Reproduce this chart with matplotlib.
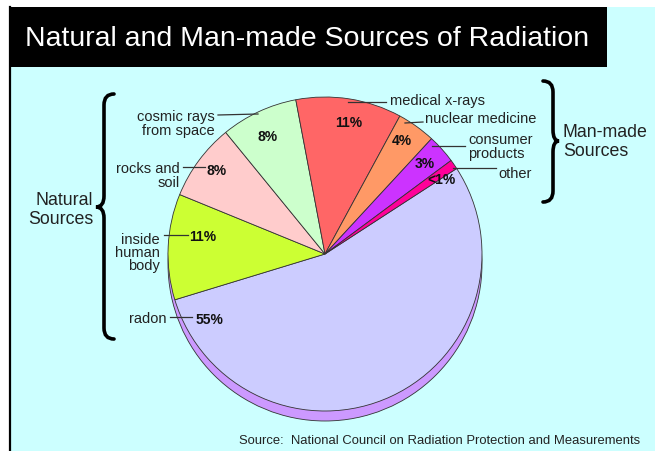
import matplotlib.pyplot as plt
from matplotlib.patches import Rectangle, Circle, PathPatch
from matplotlib.path import Path

plt.rcParams['font.family'] = ['Liberation Sans', 'DejaVu Sans']

# data, clockwise from the radon slice
sources = ['radon', 'inside\nhuman\nbody', 'rocks and\nsoil', 'cosmic rays\nfrom space',
           'medical x-rays', 'nuclear medicine', 'consumer\nproducts', 'other']
shares = [55, 11, 8, 8, 11, 4, 3, 1]
pct_labels = ['55%', '11%', '8%', '8%', '11%', '4%', '3%', '<1%']
colors = ['#CCCCFF', '#CCFF33', '#FFCCCC', '#CCFFCC',
          '#FF6666', '#FF9966', '#CC33FF', '#FF0099']

title = 'Natural and Man-made Sources of Radiation'
source_note = 'Source:  National Council on Radiation Protection and Measurements'

W, H = 655, 452
fig = plt.figure(figsize=(W / 100, H / 100), dpi=100)
fig.patch.set_facecolor('white')
ax = fig.add_axes([0, 0, 1, 1])

# background panel and title bar (image pixel coords, y down)
ax.add_patch(Rectangle((9, 8), W - 9, H - 8, fc='#CCFFFF', ec='none', zorder=0))
ax.plot([9.5, 9.5], [8, H], color='black', lw=1.6, zorder=0.5)
ax.add_patch(Rectangle((9, 8), 598, 60, fc='black', ec='none', zorder=0.5))
ax.text(25, 39, title, color='white', fontsize=20.5, va='center', ha='left')

# pie with a dropped shadow
cx, cy, r = 325, 255, 157
ax.add_patch(Circle((cx, cy + 10), r, fc='#CC99FF', ec='#333333', lw=0.6, zorder=0.8))
wedges, _ = ax.pie(shares, colors=colors, startangle=-33, counterclock=True,
                   center=(cx, cy), radius=r, frame=True,
                   wedgeprops=dict(edgecolor='#333333', linewidth=0.6))

# percentage labels
pct_pos = [(210, 320), (203, 237), (217, 171), (268, 137),
           (349, 123), (402, 141), (425, 164), (442, 180)]
for (px, py), t in zip(pct_pos, pct_labels):
    ax.text(px, py, t, fontsize=10, fontweight='bold', color='#111111',
            ha='center', va='center', zorder=5)

# category labels with leader lines
lab_pos = [(167, 319, 'right'), (160, 253, 'right'), (180, 176, 'right'),
           (215, 124, 'right'), (390, 101, 'left'), (425, 119, 'left'),
           (468, 147, 'left'), (498, 174, 'left')]
leaders = [((170, 192), (318, 318)), ((164, 188), (236, 236)),
           ((183, 205), (168, 168)), ((218, 258), (116, 115)),
           ((348, 386), (103, 103)), ((405, 423), (124, 123)),
           ((432, 465), (147, 147)), ((453, 496), (169, 169))]
for (lx, ly, ha), name, (xs, ys) in zip(lab_pos, sources, leaders):
    ax.text(lx, ly, name, fontsize=10.5, color='#222222', ha=ha, va='center',
            multialignment=ha, linespacing=0.95, zorder=5)
    ax.plot(xs, ys, color='#333333', lw=0.9, zorder=4)


def brace(x_end, x_mid, x_tip, y0, ym, y1, rr=11):
    verts = [(x_end, y0), (x_mid, y0), (x_mid, y0 + rr),
             (x_mid, ym - rr), (x_mid, ym), (x_tip, ym),
             (x_mid, ym), (x_mid, ym + rr),
             (x_mid, y1 - rr), (x_mid, y1), (x_end, y1)]
    codes = [Path.MOVETO, Path.CURVE3, Path.CURVE3,
             Path.LINETO, Path.CURVE3, Path.CURVE3,
             Path.CURVE3, Path.CURVE3,
             Path.LINETO, Path.CURVE3, Path.CURVE3]
    ax.add_patch(PathPatch(Path(verts, codes), fc='none', ec='black',
                           lw=2.6, capstyle='round', zorder=5))


brace(114, 104, 96, 95, 208, 340)
brace(543, 553, 559, 82, 142, 203)

ax.text(93, 210, 'Natural\nSources', fontsize=12.8, color='#222222',
        ha='right', va='center', multialignment='right', linespacing=1.1)
ax.text(563, 142, 'Man-made\nSources', fontsize=12.8, color='#222222',
        ha='left', va='center', multialignment='left', linespacing=1.1)

ax.text(239, 441, source_note, fontsize=9.4, color='#222222', ha='left', va='center')

ax.set_xlim(0, W)
ax.set_ylim(H, 0)
ax.set_aspect('auto')
ax.axis('off')

fig.savefig('out.png', dpi=100, facecolor=fig.get_facecolor())
